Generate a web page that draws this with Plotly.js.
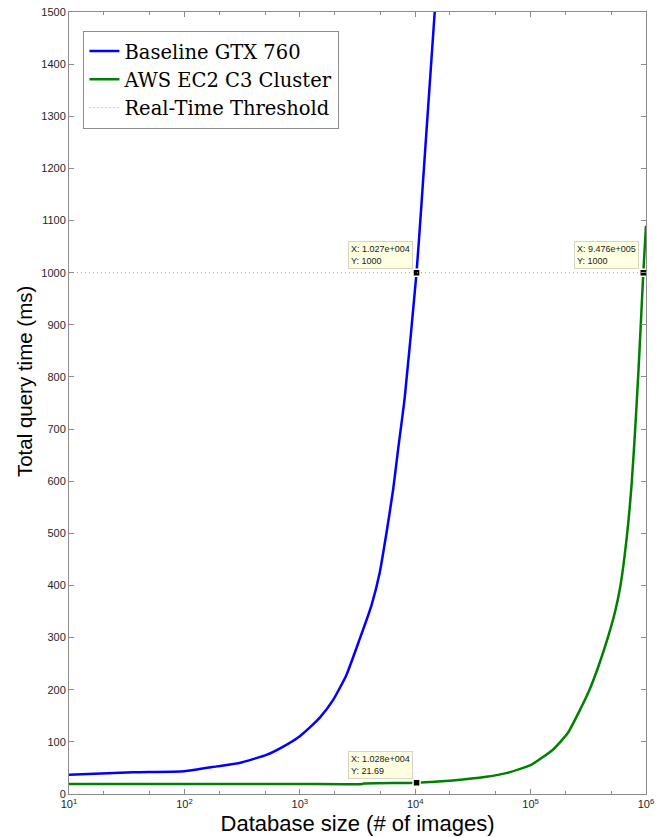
<!DOCTYPE html>
<html>
<head>
<meta charset="utf-8">
<script src="https://cdn.plot.ly/plotly-3.0.1.min.js"></script>
<style>html,body{margin:0;padding:0;background:#fff;}#chart{width:665px;height:837px;}</style>
</head>
<body>
<div id="chart"></div>
<script>
// Baseline GTX 760 (database size, query time in ms)
const gtxSize = [10, 36, 100, 191, 305, 520, 725, 1000, 1323, 1511, 1940, 2530, 3300, 4180, 4930, 5640, 6430, 7100, 8110, 10270, 11320, 12510, 14760, 15200];
const gtxTime = [37, 41.5, 43.5, 53, 60, 75.5, 91.5, 111, 135, 148, 180, 228, 297, 362, 425, 501, 583, 660, 760, 1000, 1130, 1270, 1500, 1545];

// AWS EC2 C3 Cluster
const awsSize = [10, 100, 1000, 3500, 3600, 10280, 21200, 41300, 61600, 101000, 156000, 210000, 266000, 324000, 390000, 467000, 540000, 601000, 687000, 754000, 806000, 855000, 901000, 947600, 1000000];
const awsTime = [19.2, 19.2, 19.2, 19.3, 20.3, 21.69, 26, 33, 40, 56, 85, 117, 160, 200, 247, 300, 350, 400, 500, 600, 700, 800, 900, 1000, 1090];

// Real-time threshold
const thresholdX = [10, 1000000];
const thresholdY = [1000, 1000];

// Data tips
const tipX = [10270, 947600, 10280];
const tipY = [1000, 1000, 21.69];
const tipText = ['X: 1.027e+004<br>Y: 1000', 'X: 9.476e+005<br>Y: 1000', 'X: 1.028e+004<br>Y: 21.69'];

// Axis ticks
const xTickVals = [10, 100, 1000, 10000, 100000, 1000000];
const xTickText = ['10<sup>1</sup>', '10<sup>2</sup>', '10<sup>3</sup>', '10<sup>4</sup>', '10<sup>5</sup>', '10<sup>6</sup>'];
const yTickVals = [0, 100, 200, 300, 400, 500, 600, 700, 800, 900, 1000, 1100, 1200, 1300, 1400, 1500];

const traces = [
  {x: gtxSize, y: gtxTime, type: 'scatter', mode: 'lines', name: 'Baseline GTX 760',
   line: {color: '#0000ff', width: 2.5, shape: 'spline', smoothing: 0.5}},
  {x: awsSize, y: awsTime, type: 'scatter', mode: 'lines', name: 'AWS EC2 C3 Cluster',
   line: {color: '#008000', width: 2.5, shape: 'spline', smoothing: 0.5}},
  {x: thresholdX, y: thresholdY, type: 'scatter', mode: 'lines', name: 'Real-Time Threshold',
   xaxis: 'x2',
   line: {color: '#a0a0a0', width: 1, dash: '1px,3px'}},
  {x: tipX, y: tipY, type: 'scatter', mode: 'markers', showlegend: false, hoverinfo: 'skip',
   marker: {symbol: 'square', size: 7, color: '#000', line: {color: '#ffffe1', width: 1.5}}}
];

const annotations = tipX.map((x, i) => ({
  x: Math.log10(x), y: tipY[i], xref: 'x', yref: 'y',
  text: tipText[i], showarrow: false, align: 'left',
  xanchor: 'right', yanchor: 'bottom', xshift: -4, yshift: 4,
  font: {family: 'Liberation Sans, Arial, sans-serif', size: 9, color: '#222'},
  bgcolor: '#ffffe1', bordercolor: '#d9d6c0', borderwidth: 1, borderpad: 2
}));

annotations.push({
  xref: 'paper', yref: 'paper', x: -0.078, y: 0.528,
  text: 'Total query time (ms)', textangle: -90, showarrow: false,
  xanchor: 'center', yanchor: 'middle',
  font: {family: 'Liberation Sans, Arial, sans-serif', size: 20.5, color: '#000'}
});

const tickFont = {family: 'Liberation Sans, Arial, sans-serif', size: 11, color: '#262626'};
const axisCommon = {
  showgrid: false, zeroline: false, showline: true, linecolor: '#8c8c8c', linewidth: 1,
  mirror: 'ticks', ticks: 'inside', ticklen: 5, tickcolor: '#8c8c8c', tickfont: tickFont
};

const layout = {
  width: 665, height: 837,
  margin: {l: 69, r: 19, t: 12, b: 43},
  paper_bgcolor: '#fff', plot_bgcolor: '#fff',
  showlegend: true,
  legend: {
    x: 0.025, y: 0.976, xanchor: 'left', yanchor: 'top',
    bgcolor: '#fff', bordercolor: '#8c8c8c', borderwidth: 1,
    font: {family: 'DejaVu Serif, Liberation Serif, serif', size: 19.5, color: '#000'},
    tracegroupgap: 0, itemwidth: 30
  },
  xaxis: Object.assign({}, axisCommon, {
    type: 'log', range: [1, 6], tickvals: xTickVals, ticktext: xTickText,
    minor: {ticks: 'inside', ticklen: 3, tickcolor: '#8c8c8c', showgrid: false},
    title: {text: 'Database size (# of images)', standoff: 6,
            font: {family: 'Liberation Sans, Arial, sans-serif', size: 22, color: '#000'}}
  }),
  xaxis2: {
    type: 'log', range: [1, 6], overlaying: 'x', side: 'top', anchor: 'y',
    showgrid: false, zeroline: false, showline: false, showticklabels: false,
    tickvals: xTickVals, ticks: 'inside', ticklen: 5, tickcolor: '#8c8c8c',
    minor: {ticks: 'inside', ticklen: 3, tickcolor: '#8c8c8c', showgrid: false}
  },
  yaxis: Object.assign({}, axisCommon, {
    range: [0, 1500], tickvals: yTickVals
  }),
  annotations: annotations
};

Plotly.newPlot('chart', traces, layout, {displayModeBar: false, staticPlot: true});
</script>
</body>
</html>
